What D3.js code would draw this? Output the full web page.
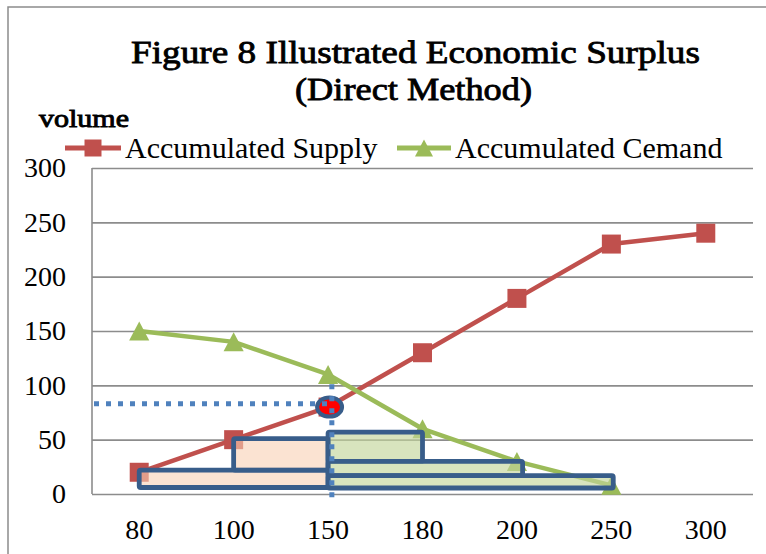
<!DOCTYPE html>
<html>
<head>
<meta charset="utf-8">
<script src="https://cdn.jsdelivr.net/npm/d3@7"></script>
<style>
  html, body { margin: 0; padding: 0; background: #fff; }
  svg { display: block; }
</style>
</head>
<body>
<script>
// Price levels along the horizontal axis
const categories = ["80", "100", "150", "180", "200", "250", "300"];
// Cumulative quantities supplied / demanded at each price
const supplyValues = [20, 50, 80, 130, 180, 230, 240];
const demandValues = [150, 140, 110, 60, 30, 8];
const yTicks = [0, 50, 100, 150, 200, 250, 300];

// Surplus blocks: [from price index, to price index, lower volume, upper volume]
const producerBlocks = [
  [0, 2, 6, 22],
  [1, 2, 22, 51]
];
const consumerBlocks = [
  [2, 3, 30, 57],
  [2, 4.06, 17, 30],
  [2, 5.02, 5.5, 17]
];

// Equilibrium point and its guide lines
const equilibrium = { index: 2, value: 80 };
const guideVolume = 83;
const guideVertical = { index: 2.04, from: 101, to: -3 };

const seriesNames = ["Accumulated Supply", "Accumulated Cemand"];
const titleLines = ["Figure 8 Illustrated Economic Surplus", "(Direct Method)"];
const axisTitle = "volume";

const W = 766, H = 554;
const plot = { left: 92, right: 753, top: 168, bottom: 494 };
const serif = "'Liberation Serif', 'Times New Roman', serif";
const RED = "#c0504d", GREEN = "#9bbb59", NAVY = "#385d8a", BLUE = "#4f81bd", GRID = "#8c8c8c";

const svg = d3.select("body").append("svg")
  .attr("width", W).attr("height", H);

svg.append("rect").attr("width", W).attr("height", H).attr("fill", "#fff");

// Chart frame (right and bottom edges lie outside the view)
svg.append("path")
  .attr("d", "M8,600 V7 H800")
  .attr("fill", "none").attr("stroke", GRID).attr("stroke-width", 1.5);

const x = d3.scaleBand().domain(categories).range([plot.left, plot.right]).padding(0);
const cx = c => x(c) + x.bandwidth() / 2;
const xi = d3.scaleLinear()
  .domain([0, categories.length - 1])
  .range([cx(categories[0]), cx(categories[categories.length - 1])]);
const y = d3.scaleLinear().domain([0, 300]).range([plot.bottom, plot.top]);

// Y axis: gridlines + labels
const yAxis = svg.append("g")
  .attr("transform", `translate(${plot.left},0)`)
  .call(d3.axisLeft(y).tickValues(yTicks).tickSize(-(plot.right - plot.left)).tickPadding(26));
yAxis.select(".domain").remove();
yAxis.selectAll(".tick line").attr("stroke", GRID).attr("stroke-width", 1.6);
yAxis.selectAll(".tick text")
  .attr("font-family", serif).attr("font-size", 28).attr("fill", "#000");

// Vertical axis line
svg.append("line")
  .attr("x1", plot.left).attr("x2", plot.left)
  .attr("y1", y(300)).attr("y2", y(0))
  .attr("stroke", GRID).attr("stroke-width", 1.6);

// X axis labels
const xAxis = svg.append("g")
  .attr("transform", `translate(0,${plot.bottom})`)
  .call(d3.axisBottom(x).tickSize(0).tickPadding(25));
xAxis.select(".domain").remove();
xAxis.selectAll(".tick text")
  .attr("font-family", serif).attr("font-size", 28).attr("fill", "#000");

// Triangle marker centred on its bounding box
const boxTriangle = {
  draw(ctx, size) {
    const s = Math.sqrt(size);
    ctx.moveTo(0, -s / 2);
    ctx.lineTo(s * 0.53, s / 2);
    ctx.lineTo(-s * 0.53, s / 2);
    ctx.closePath();
  }
};

const line = d3.line().x((d, i) => cx(categories[i])).y(d => y(d));

// Supply series
svg.append("path").datum(supplyValues)
  .attr("d", line).attr("fill", "none")
  .attr("stroke", RED).attr("stroke-width", 4.5).attr("stroke-linejoin", "round");
svg.append("g").selectAll("path").data(supplyValues).join("path")
  .attr("transform", (d, i) => `translate(${cx(categories[i])},${y(d)})`)
  .attr("d", d3.symbol(d3.symbolSquare, 19 * 19))
  .attr("fill", RED);

// Demand series
svg.append("path").datum(demandValues)
  .attr("d", line).attr("fill", "none")
  .attr("stroke", GREEN).attr("stroke-width", 4.5).attr("stroke-linejoin", "round");
svg.append("g").selectAll("path").data(demandValues).join("path")
  .attr("transform", (d, i) => `translate(${cx(categories[i])},${y(d)})`)
  .attr("d", d3.symbol(boxTriangle, 19 * 19))
  .attr("fill", GREEN);

// Surplus blocks
function drawBlocks(blocks, fill, opacity) {
  svg.append("g").selectAll("rect").data(blocks).join("rect")
    .attr("x", d => xi(d[0]))
    .attr("width", d => xi(d[1]) - xi(d[0]))
    .attr("y", d => y(d[3]))
    .attr("height", d => y(d[2]) - y(d[3]))
    .attr("rx", 1.5)
    .attr("fill", fill).attr("fill-opacity", opacity)
    .attr("stroke", NAVY).attr("stroke-width", 4.8).attr("stroke-linejoin", "round");
}
drawBlocks(producerBlocks, "#f8d0b4", 0.6);
drawBlocks(consumerBlocks, "#c3d69b", 0.65);

// Equilibrium ring
svg.append("ellipse")
  .attr("cx", xi(equilibrium.index) + 1.5).attr("cy", y(equilibrium.value))
  .attr("rx", 12.5).attr("ry", 9.5)
  .attr("fill", "#ff0000").attr("stroke", NAVY).attr("stroke-width", 4);

// Dotted guide lines
svg.append("line")
  .attr("x1", plot.left + 2).attr("x2", xi(equilibrium.index))
  .attr("y1", y(guideVolume)).attr("y2", y(guideVolume))
  .attr("stroke", BLUE).attr("stroke-width", 5).attr("stroke-dasharray", "5 7");
svg.append("line")
  .attr("x1", xi(guideVertical.index)).attr("x2", xi(guideVertical.index))
  .attr("y1", y(guideVertical.from)).attr("y2", y(guideVertical.to))
  .attr("stroke", BLUE).attr("stroke-width", 5).attr("stroke-dasharray", "5 7");

// Legend
const legend = svg.append("g");
const legendItems = [
  { name: seriesNames[0], color: RED, symbol: d3.symbolSquare, x0: 65, x1: 121, tx: 125 },
  { name: seriesNames[1], color: GREEN, symbol: boxTriangle, x0: 397, x1: 451, tx: 455 }
];
legendItems.forEach(it => {
  legend.append("line")
    .attr("x1", it.x0).attr("x2", it.x1).attr("y1", 148).attr("y2", 148)
    .attr("stroke", it.color).attr("stroke-width", 5);
  legend.append("path")
    .attr("transform", `translate(${(it.x0 + it.x1) / 2},148)`)
    .attr("d", d3.symbol(it.symbol, 17 * 17))
    .attr("fill", it.color);
  legend.append("text")
    .attr("x", it.tx).attr("y", 158)
    .attr("font-family", serif).attr("font-size", 30).attr("fill", "#000")
    .text(it.name);
});

// Titles: regular face, thickened slightly with a hairline stroke
function label(text, xPos, yPos, size, width, weight, thicken) {
  const t = svg.append("text")
    .attr("x", xPos).attr("y", yPos)
    .attr("font-family", serif).attr("font-size", size)
    .attr("font-weight", weight).attr("fill", "#000")
    .text(text);
  if (thicken) t.attr("stroke", "#000").attr("stroke-width", thicken);
  if (width) t.attr("textLength", width).attr("lengthAdjust", "spacingAndGlyphs");
  return t;
}
label(titleLines[0], 131, 63, 31, 569, "normal", 0.8);
label(titleLines[1], 295, 100, 31, 237, "normal", 0.8);
label(axisTitle, 39, 127, 26, 90, "normal", 0.9);
</script>
</body>
</html>
